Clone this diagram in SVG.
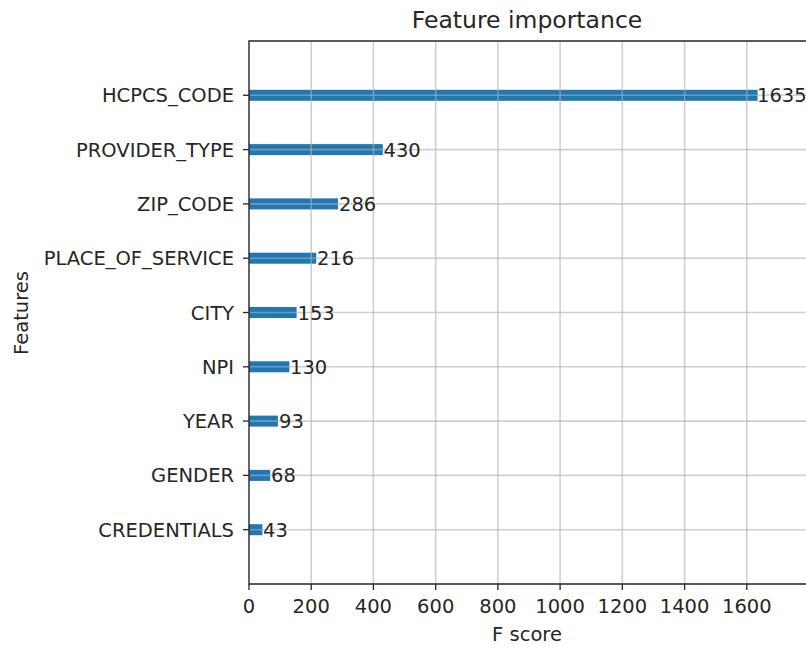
<svg xmlns="http://www.w3.org/2000/svg" width="806" height="648" viewBox="0 0 806 648">
<style>
text{font-family:"DejaVu Sans",sans-serif;fill:#262626;font-size:19.5px}
.yl{text-anchor:end}
.xl{text-anchor:middle}
.bar{fill:#1f77b4}
.grid line{stroke:#b0b0b0;stroke-width:1.6;stroke-opacity:0.6}
.spine{stroke:#262626;stroke-width:1.4;fill:none}
.tick{stroke:#262626;stroke-width:1.3}
</style>
<rect width="806" height="648" fill="#fff"/>
<text x="527" y="28" class="xl" style="font-size:23.5px">Feature importance</text>
<g id="bars">
<rect class="bar" x="249" y="89.8" width="508.6" height="11"/>
<rect class="bar" x="249" y="144.1" width="133.8" height="11"/>
<rect class="bar" x="249" y="198.4" width="89" height="11"/>
<rect class="bar" x="249" y="252.7" width="67.2" height="11"/>
<rect class="bar" x="249" y="307" width="47.6" height="11"/>
<rect class="bar" x="249" y="361.3" width="40.4" height="11"/>
<rect class="bar" x="249" y="415.6" width="28.9" height="11"/>
<rect class="bar" x="249" y="469.9" width="21.2" height="11"/>
<rect class="bar" x="249" y="524.2" width="13.4" height="11"/>
</g>
<g class="grid" id="grid">
<line x1="311.2" y1="41" x2="311.2" y2="584"/>
<line x1="373.4" y1="41" x2="373.4" y2="584"/>
<line x1="435.7" y1="41" x2="435.7" y2="584"/>
<line x1="497.9" y1="41" x2="497.9" y2="584"/>
<line x1="560.1" y1="41" x2="560.1" y2="584"/>
<line x1="622.3" y1="41" x2="622.3" y2="584"/>
<line x1="684.6" y1="41" x2="684.6" y2="584"/>
<line x1="746.8" y1="41" x2="746.8" y2="584"/>
<line x1="249" y1="95.3" x2="806" y2="95.3"/>
<line x1="249" y1="149.6" x2="806" y2="149.6"/>
<line x1="249" y1="203.9" x2="806" y2="203.9"/>
<line x1="249" y1="258.2" x2="806" y2="258.2"/>
<line x1="249" y1="312.5" x2="806" y2="312.5"/>
<line x1="249" y1="366.8" x2="806" y2="366.8"/>
<line x1="249" y1="421.1" x2="806" y2="421.1"/>
<line x1="249" y1="475.4" x2="806" y2="475.4"/>
<line x1="249" y1="529.7" x2="806" y2="529.7"/>
</g>
<g id="spines">
<polyline class="spine" points="806,41 249,41 249,584 806,584"/>
</g>
<g id="yticks">
<line class="tick" x1="243" y1="95.3" x2="249" y2="95.3"/>
<line class="tick" x1="243" y1="149.6" x2="249" y2="149.6"/>
<line class="tick" x1="243" y1="203.9" x2="249" y2="203.9"/>
<line class="tick" x1="243" y1="258.2" x2="249" y2="258.2"/>
<line class="tick" x1="243" y1="312.5" x2="249" y2="312.5"/>
<line class="tick" x1="243" y1="366.8" x2="249" y2="366.8"/>
<line class="tick" x1="243" y1="421.1" x2="249" y2="421.1"/>
<line class="tick" x1="243" y1="475.4" x2="249" y2="475.4"/>
<line class="tick" x1="243" y1="529.7" x2="249" y2="529.7"/>
<text class="yl" x="234" y="102.3">HCPCS_CODE</text>
<text class="yl" x="234" y="156.6">PROVIDER_TYPE</text>
<text class="yl" x="234" y="210.9">ZIP_CODE</text>
<text class="yl" x="234" y="265.2">PLACE_OF_SERVICE</text>
<text class="yl" x="234" y="319.5">CITY</text>
<text class="yl" x="234" y="373.8">NPI</text>
<text class="yl" x="234" y="428.1">YEAR</text>
<text class="yl" x="234" y="482.4">GENDER</text>
<text class="yl" x="234" y="536.7">CREDENTIALS</text>
</g>
<g id="xticks">
<line class="tick" x1="249" y1="584" x2="249" y2="590"/>
<line class="tick" x1="311.2" y1="584" x2="311.2" y2="590"/>
<line class="tick" x1="373.4" y1="584" x2="373.4" y2="590"/>
<line class="tick" x1="435.7" y1="584" x2="435.7" y2="590"/>
<line class="tick" x1="497.9" y1="584" x2="497.9" y2="590"/>
<line class="tick" x1="560.1" y1="584" x2="560.1" y2="590"/>
<line class="tick" x1="622.3" y1="584" x2="622.3" y2="590"/>
<line class="tick" x1="684.6" y1="584" x2="684.6" y2="590"/>
<line class="tick" x1="746.8" y1="584" x2="746.8" y2="590"/>
<text class="xl" x="249" y="613">0</text>
<text class="xl" x="311.2" y="613">200</text>
<text class="xl" x="373.4" y="613">400</text>
<text class="xl" x="435.7" y="613">600</text>
<text class="xl" x="497.9" y="613">800</text>
<text class="xl" x="560.1" y="613">1000</text>
<text class="xl" x="622.3" y="613">1200</text>
<text class="xl" x="684.6" y="613">1400</text>
<text class="xl" x="746.8" y="613">1600</text>
</g>
<g id="values">
<text x="757" y="102.3">1635</text>
<text x="383.5" y="156.6">430</text>
<text x="339" y="210.9">286</text>
<text x="317" y="265.2">216</text>
<text x="297.5" y="319.5">153</text>
<text x="290" y="373.8">130</text>
<text x="279" y="428.1">93</text>
<text x="271" y="482.4">68</text>
<text x="263" y="536.7">43</text>
</g>
<text class="xl" x="527" y="641">F score</text>
<text class="xl" transform="translate(28,313) rotate(-90)">Features</text>
</svg>
